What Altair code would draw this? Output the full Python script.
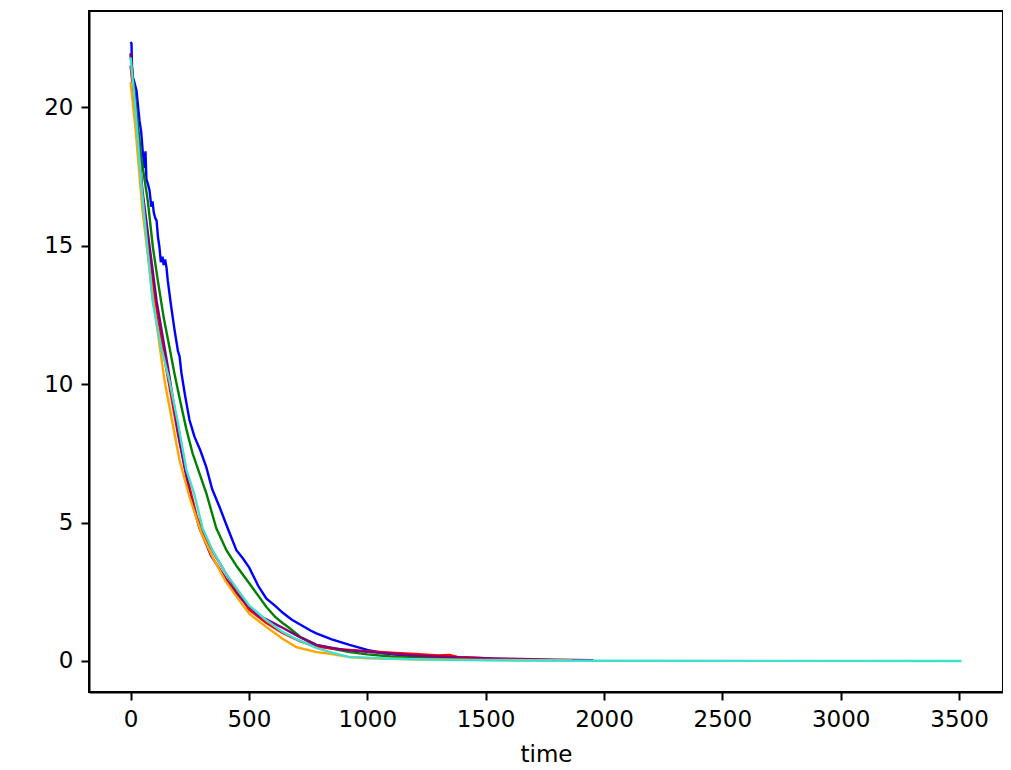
import altair as alt
import pandas as pd

# time / value lists
blue_t = [0, 4, 8, 16, 25, 32, 38, 45, 51, 58, 63, 67, 74, 80, 88, 93, 98, 104, 110, 116, 122, 128, 135, 140, 146, 152, 157, 170, 185, 200, 207, 215, 230, 249, 270, 295, 320, 345, 376, 410, 447, 475, 502, 540, 574, 610, 642, 680, 720, 760, 785, 850, 925, 1000, 1064, 1150, 1250, 1400, 1600, 1800]
blue_v = [22.35, 22.3, 20.7, 20.9, 20.6, 20.0, 19.5, 19.1, 18.45, 17.8, 18.4, 17.4, 17.2, 17.0, 16.4, 16.6, 16.2, 16.0, 15.9, 15.3, 14.95, 14.4, 14.6, 14.3, 14.5, 14.2, 13.75, 12.9, 12.0, 11.2, 11.0, 10.4, 9.6, 8.7, 8.1, 7.6, 7.0, 6.2, 5.56, 4.8, 4.0, 3.7, 3.36, 2.7, 2.25, 2.0, 1.75, 1.5, 1.3, 1.1, 1.0, 0.78, 0.58, 0.4, 0.29, 0.2, 0.14, 0.08, 0.05, 0.03]

green_t = [0, 20, 45, 73, 95, 115, 140, 165, 185, 207, 235, 262, 290, 320, 362, 405, 450, 502, 540, 574, 610, 642, 671, 720, 785, 850, 925, 1000, 1100, 1250, 1450, 1650]
green_v = [21.9, 20.3, 18.2, 16.6, 14.9, 13.75, 12.4, 11.3, 10.4, 9.5, 8.4, 7.5, 6.8, 6.06, 4.8, 4.0, 3.4, 2.8, 2.35, 1.95, 1.6, 1.37, 1.19, 0.85, 0.58, 0.45, 0.32, 0.24, 0.16, 0.1, 0.06, 0.04]

red_t = [0, 20, 50, 100, 150, 200, 240, 280, 330, 400, 450, 502, 574, 642, 720, 785, 850, 925, 1000, 1100, 1200, 1300, 1347, 1380, 1420, 1500]
red_v = [21.5, 19.9, 16.9, 13.2, 10.6, 8.2, 6.6, 5.2, 4.2, 3.2, 2.5, 1.84, 1.37, 1.01, 0.7, 0.52, 0.45, 0.4, 0.35, 0.3, 0.25, 0.2, 0.22, 0.15, 0.14, 0.1]

purple_t = [0, 20, 50, 110, 160, 210, 249, 291, 340, 400, 450, 502, 540, 574, 642, 713, 785, 900, 1064, 1200, 1400, 1600, 1800, 1955]
purple_v = [21.95, 20.1, 17.0, 13.0, 10.5, 7.8, 6.06, 4.8, 3.8, 3.0, 2.4, 1.95, 1.65, 1.5, 1.2, 0.87, 0.58, 0.4, 0.29, 0.2, 0.12, 0.08, 0.05, 0.03]

orange_t = [0, 20, 50, 93, 144, 207, 250, 300, 350, 400, 450, 502, 570, 642, 700, 785, 850, 925, 1000, 1200, 1500, 1865]
orange_v = [20.9, 19.3, 16.3, 13.2, 10.1, 7.25, 5.9, 4.6, 3.7, 2.9, 2.3, 1.7, 1.25, 0.8, 0.5, 0.32, 0.25, 0.14, 0.1, 0.06, 0.04, 0.02]

turq_t = [0, 20, 50, 93, 130, 165, 200, 236, 270, 304, 346, 400, 450, 502, 570, 642, 710, 785, 850, 925, 1000, 1100, 1300, 1600, 2000, 3510]
turq_v = [21.8, 20.0, 16.8, 13.0, 11.3, 10.1, 8.6, 6.9, 6.0, 4.8, 4.0, 3.2, 2.6, 2.0, 1.5, 1.05, 0.75, 0.47, 0.3, 0.14, 0.12, 0.08, 0.04, 0.02, 0.01, 0.0]

series = [
    ("blue", blue_t, blue_v),
    ("green", green_t, green_v),
    ("red", red_t, red_v),
    ("purple", purple_t, purple_v),
    ("orange", orange_t, orange_v),
    ("turquoise", turq_t, turq_v),
]
x_ticks = [0, 500, 1000, 1500, 2000, 2500, 3000, 3500]
y_ticks = [0, 5, 10, 15, 20]

FONT = "DejaVu Sans"
xscale = alt.Scale(domain=[-175.5, 3685.5], nice=False, zero=False)
yscale = alt.Scale(domain=[-1.12, 23.47], nice=False, zero=False)

layers = []
for i, (col, ts, vs) in enumerate(series):
    df = pd.DataFrame({"time": ts, "value": vs})
    if i == 0:
        x = alt.X("time:Q", scale=xscale, title="time",
                  axis=alt.Axis(values=x_ticks, format="d", grid=False))
        y = alt.Y("value:Q", scale=yscale, title=None,
                  axis=alt.Axis(values=y_ticks, format="d", grid=False))
    else:
        x = alt.X("time:Q", scale=xscale)
        y = alt.Y("value:Q", scale=yscale)
    layers.append(
        alt.Chart(df).mark_line(color=col, strokeWidth=2.4, interpolate="linear").encode(x=x, y=y)
    )

chart = alt.layer(*layers).properties(
    width=914, height=681,
    autosize=alt.AutoSizeParams(type="none"),
    padding={"left": 81, "top": 3, "right": 0, "bottom": 78},
).configure_view(
    stroke="black", strokeWidth=2
).configure_axis(
    domainColor="black", domainWidth=2, tickColor="black", tickWidth=2, tickSize=8,
    labelFont=FONT, labelFontSize=23, labelColor="black", labelPadding=8,
    titleFont=FONT, titleFontSize=23, titleColor="black", titleFontWeight="normal",
    titlePadding=12,
)

chart.save("out.html", embed_options={"renderer": "svg", "actions": False})
